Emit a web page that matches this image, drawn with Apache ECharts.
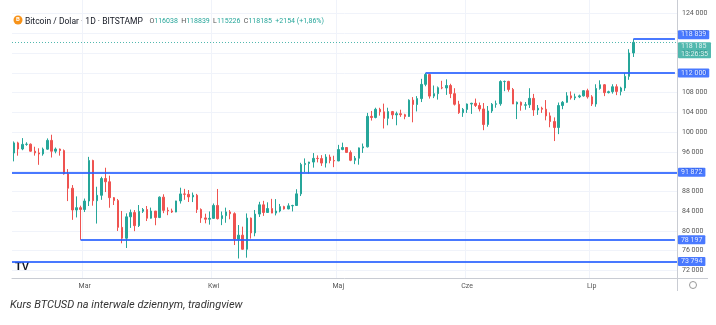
<!DOCTYPE html>
<html><head><meta charset="utf-8">
<script src="https://cdn.jsdelivr.net/npm/echarts@6/dist/echarts.min.js"></script>
<style>html,body{margin:0;padding:0;background:#fff}#c{width:716px;height:325px}</style>
</head><body><div id="c"></div>
<script>
// ---- data ----
const startDate = '2025-02-12';
const paddingDays = 10;
const monthLabels = {'03':'Mar','04':'Kwi','05':'Maj','06':'Cze','07':'Lip'};

const opens = [
95780,97830,96600,97530,97570,96150,95800,95590,96560,98340,96150,96580,96270,91550,88650,84250,84710,
84350,86060,94270,86120,87220,90620,89960,86740,86150,80730,78530,82860,83720,81080,83970,84340,82580,84030,82720,86850,84170,84060,83830,86080,87500,87420,86900,87230,84350,82640,82380,
82550,85170,82490,83100,83860,83500,78370,79150,76300,82600,79610,83420,85290,83740,84540,83620,84040,84930,84460,85080,85160,87510,93440,93680,93950,94700,94650,93750,94970,94260,
94180,96490,96900,95900,94310,94730,96820,97030,103200,102970,104630,104120,102800,104170,103510,103740,103540,103180,106480,105600,106800,109680,111670,107300,107800,109000,108950,109450,107800,105650,103950,
104600,105700,105850,105400,104700,101550,104300,105650,105750,110250,110270,108650,105700,106050,105450,105550,106850,104500,104850,104650,103300,102150,100950,105400,106050,107350,106950,107150,107350,108400,
107150,105700,108850,109600,108000,108200,109200,108250,108950,111300,116038
];
const closes = [
97830,96600,97530,97570,96150,95800,95590,96560,98340,96150,96580,96270,91550,88650,84250,84710,84350,
86060,94270,86120,87220,90620,89960,86740,86150,80730,78530,82860,83720,81080,83970,84340,82580,84030,82720,86850,84170,84060,83830,86080,87500,87420,86900,87230,84350,82640,82380,82550,
85170,82490,83100,83860,83500,78370,79150,76300,82600,79610,83420,85290,83740,84540,83620,84040,84930,84460,85080,85160,87510,93440,93680,93950,94700,94650,93750,94970,94260,94180,
96490,96900,95900,94310,94730,96820,97030,103200,102970,104630,104120,102800,104170,103510,103740,103540,103180,106480,105600,106800,109680,111670,107300,107800,109000,108950,109450,107800,105650,103950,104600,
105700,105850,105400,104700,101550,104300,105650,105750,110250,110270,108650,105700,106050,105450,105550,106850,104500,104850,104650,103300,102150,100950,105400,106050,107350,106950,107150,107350,108400,107150,
105700,108850,109600,108000,108200,109200,108250,108950,111300,116031,118185
];
const lows = [
94090,95240,96350,97250,96050,95250,93390,95240,96440,94870,95720,95250,91400,86050,82250,82740,78197,
83830,85050,85120,81500,86300,87880,84700,85250,80000,77500,76550,80620,79960,80800,83650,82010,82500,81160,82600,83600,83200,83650,83800,85550,86300,85860,85850,83650,81640,81550,81280,
82430,82320,81180,81660,82370,77150,74430,76220,74590,78450,78930,82830,83050,83680,83600,83150,83770,84330,84400,83950,85120,87070,91930,91600,92820,93880,93170,92850,93700,92920,
94130,96340,95780,94130,93530,93420,95800,96900,102350,102800,103350,100750,101400,102650,101400,103100,102620,103100,102000,104200,106100,109300,106800,106900,106600,108700,107550,106900,105400,103700,103100,
103900,103700,105100,104200,100400,101100,103900,104950,105350,108300,108200,105700,102650,104350,104550,104900,103300,103500,103900,102400,101000,98200,99600,104650,105950,106600,106500,106900,107200,106800,
105300,105150,108600,107300,107850,107800,107500,107450,108350,110600,115226
];
const highs = [
98120,98060,98800,97960,97720,97050,96740,96880,98740,99480,96890,96680,96500,92530,89290,87000,85120,
86560,95000,94420,88950,90980,92800,91200,86870,86480,84050,83570,84330,84230,85250,84650,85050,84730,84030,87000,87430,84780,84520,86100,88760,88520,88280,87780,87500,84570,83500,83950,
85560,88500,83940,84720,84230,83770,81200,80870,83550,82720,84250,85900,86100,85800,86500,86450,85470,85100,85600,85300,88450,93800,94690,94000,95770,95300,95350,95550,95460,95230,
97430,97880,96950,96300,95180,96900,97700,103900,104300,104950,104940,105780,104950,104300,104160,104550,103720,106650,107100,107300,110800,111980,111800,109450,109250,110400,110700,109800,108900,106350,104900,
105800,105950,106800,106000,105900,105300,105900,106400,110500,110450,110400,108950,106200,106200,106100,108900,107750,105500,105150,106500,104000,103000,106000,106300,108100,108250,107800,107600,108500,108800,
107500,109700,110500,109750,108400,109700,109700,109200,111950,116800,118839
];
const yTicks = [72000,76000,80000,84000,88000,92000,96000,100000,104000,108000,112000,116000,120000,124000];
const levels = [118839, 112000, 91872, 78197, 73794];
const levelStarts = ['2025-07-11', '2025-05-22', null, '2025-02-28', null];
const lastTime = '13:26:35';

// ---- build ----
const dates = [];
const d0 = new Date(startDate + 'T00:00:00Z');
for (let i = 0; i < opens.length + paddingDays; i++) {
  dates.push(new Date(d0.getTime() + i * 86400000).toISOString().slice(0, 10));
}
const candles = opens.map((o, i) => [o, closes[i], lows[i], highs[i]]);
const fmt = v => String(v).replace(/\B(?=(\d{3})+(?!\d))/g, ' ');
const isMonthStart = (i, v) => typeof v === 'string' ? v.slice(8) === '01' : dates[i].slice(8) === '01';

const n = opens.length - 1;
const lastClose = closes[n], prevClose = closes[n - 1];
const chg = lastClose - prevClose;
const pct = (chg / prevClose * 100).toFixed(2).replace('.', ',');

const blue = '#2962ff', green = '#26a69a', red = '#ef5350';
const boxLabel = (txt, extra) => Object.assign({
  show: true, position: 'end', distance: 2, formatter: txt,
  backgroundColor: blue, color: '#fff', fontSize: 7, fontFamily: 'Roboto',
  padding: [1, 3, 1, 3], borderRadius: 1
}, extra || {});

const mlData = [];
levels.forEach((lv, i) => {
  const extra = i === 0 ? {verticalAlign: 'bottom', distance: 3} : {distance: levelStarts[i] ? 3 : 1};
  if (levelStarts[i]) {
    mlData.push([
      {coord: [levelStarts[i], lv], label: boxLabel(fmt(lv), extra)},
      {coord: [dates[dates.length - 1], lv]}
    ]);
  } else {
    mlData.push({yAxis: lv, label: boxLabel(fmt(lv), extra)});
  }
});
mlData.push({
  yAxis: lastClose,
  lineStyle: {color: green, type: [1, 2], width: 1, opacity: 0.8},
  label: boxLabel(fmt(lastClose) + '\n' + lastTime, {backgroundColor: green, verticalAlign: 'top', lineHeight: 8, distance: 1, padding: [0, 3, 0, 3]})
});

const chart = echarts.init(document.getElementById('c'), null, {renderer: 'canvas'});
chart.setOption({
  animation: false,
  backgroundColor: '#fff',
  grid: {left: 12, right: 39, top: 0, bottom: 46.5},
  xAxis: {
    type: 'category', data: dates, boundaryGap: true,
    axisLine: {lineStyle: {color: '#c9ccd3'}},
    axisTick: {show: false},
    axisLabel: {interval: isMonthStart, formatter: v => monthLabels[v.slice(5, 7)] || '', fontSize: 7, color: '#555', fontFamily: 'Roboto', margin: 4},
    splitLine: {show: true, interval: isMonthStart, lineStyle: {color: '#f0f3fa'}}
  },
  yAxis: {
    type: 'value', position: 'right', min: 70375, max: 126761, scale: true,
    axisLine: {show: true, lineStyle: {color: '#c9ccd3'}},
    axisTick: {show: false, customValues: yTicks},
    axisLabel: {customValues: yTicks, formatter: v => fmt(v), fontSize: 7, color: '#555', fontFamily: 'Roboto', margin: 5},
    splitLine: {show: true, lineStyle: {color: '#f0f3fa'}}
  },
  series: [{
    type: 'candlestick', data: candles, barWidth: 2,
    itemStyle: {color: green, color0: red, borderColor: green, borderColor0: red, borderWidth: 1},
    markLine: {
      silent: true, symbol: 'none', precision: 0,
      lineStyle: {color: blue, width: 2, type: 'solid', opacity: 0.85},
      data: mlData
    }
  }],
  graphic: [
    {type: 'circle', shape: {cx: 18, cy: 20, r: 4.5}, style: {fill: '#f7931a'}},
    {type: 'text', x: 16, y: 16.5, style: {text: 'B', fill: '#fff', font: 'bold 6px Roboto'}},
    {type: 'text', x: 25, y: 15.5, style: {
      text: '{n|Bitcoin / Dolar · 1D · BITSTAMP}  {k|O}{v|' + opens[n] + '} {k|H}{v|' + highs[n] + '} {k|L}{v|' + lows[n] + '} {k|C}{v|' + lastClose + '} {v|' + (chg >= 0 ? '+' : '') + chg + ' (' + (chg >= 0 ? '+' : '') + pct + '%)}',
      rich: {
        n: {fontSize: 8.5, fill: '#131722', fontFamily: 'Roboto'},
        k: {fontSize: 7, fill: '#555', fontFamily: 'Roboto'},
        v: {fontSize: 7, fill: green, fontFamily: 'Roboto'}
      }
    }},
    {type: 'text', x: 15, y: 261, style: {text: 'TV', fill: '#131722', font: 'bold 11px "Liberation Sans"'}},
    {type: 'line', shape: {x1: 677, y1: 278.5, x2: 708, y2: 278.5}, style: {stroke: '#c9ccd3', lineWidth: 1}},
    {type: 'line', shape: {x1: 677.5, y1: 278, x2: 677.5, y2: 291}, style: {stroke: '#c9ccd3', lineWidth: 1}},
    {type: 'circle', shape: {cx: 693, cy: 285, r: 3.5}, style: {fill: 'none', stroke: '#999', lineWidth: 1}},
    {type: 'text', x: 10, y: 300, style: {text: 'Kurs BTCUSD na interwale dziennym, tradingview', fill: '#333', font: 'italic 11px Roboto'}}
  ]
});
</script>
</body></html>
